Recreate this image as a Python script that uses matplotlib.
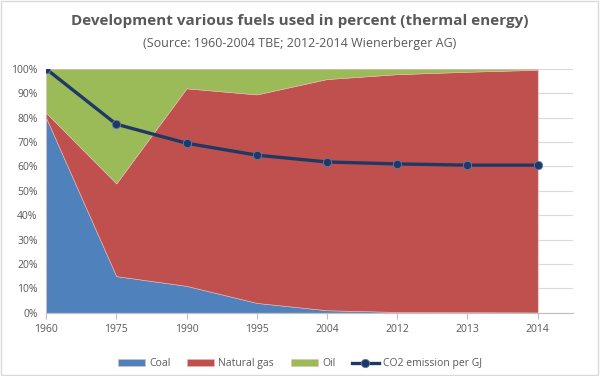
import numpy as np
import matplotlib.pyplot as plt
from matplotlib.ticker import PercentFormatter
from matplotlib.patches import Rectangle

years = ['1960', '1975', '1990', '1995', '2004', '2012', '2013', '2014']
coal = [80, 15, 11, 4, 1, 0.3, 0.2, 0.1]
natural_gas = [2, 38, 81, 85.5, 94.8, 97.5, 98.6, 99.5]
oil = [18, 47, 8, 10.5, 4.2, 2.2, 1.2, 0.4]
co2 = [100, 77.3, 69.5, 64.6, 61.8, 61, 60.5, 60.5]

plt.rcParams['font.family'] = ['Open Sans', 'DejaVu Sans']

fig = plt.figure(figsize=(6, 3.76), dpi=100)
ax = fig.add_axes([0.0767, 0.1684, 0.878, 0.6486])

x = np.arange(len(years))
ax.stackplot(x, coal, natural_gas, oil,
             colors=['#4F81BD', '#C0504D', '#9BBB59'],
             labels=['Coal', 'Natural gas', 'Oil'],
             edgecolor='#E6B9B8', linewidth=0.4, zorder=2)
ax.plot(x, co2, color='#1F3864', lw=2.4, marker='o', ms=6,
        mfc='#1F3864', mec='#5B7DB8', mew=0.6,
        label='CO2 emission per GJ', zorder=3)

ax.set_xlim(0, 7.5)
ax.set_ylim(0, 100)
ax.set_xticks(x)
ax.set_xticklabels(years)
ax.set_yticks(np.arange(0, 101, 10))
ax.yaxis.set_major_formatter(PercentFormatter(decimals=0))
ax.grid(axis='y', color='#D9D9D9', lw=0.8, zorder=0)
ax.set_axisbelow(True)
for s in ['top', 'right', 'left']:
    ax.spines[s].set_visible(False)
ax.spines['bottom'].set_color('#BFBFBF')
ax.tick_params(axis='y', length=0, labelsize=7.5, labelcolor='#595959', pad=6)
ax.tick_params(axis='x', length=4, color='#BFBFBF', labelsize=7.5,
               labelcolor='#595959', pad=4)

fig.text(0.5, 0.945, 'Development various fuels used in percent (thermal energy)',
         ha='center', va='center', fontsize=11, fontweight='bold', color='#595959')
fig.text(0.5, 0.883, '(Source: 1960-2004 TBE; 2012-2014 Wienerberger AG)',
         ha='center', va='center', fontsize=9, color='#595959')

fig.legend(loc='center', bbox_to_anchor=(0.5, 0.032), ncol=4, frameon=False,
           fontsize=7.5, labelcolor='#595959', handlelength=2.6,
           handleheight=0.6, columnspacing=1.6, handletextpad=0.4)

fig.patches.append(Rectangle((0.002, 0.003), 0.995, 0.994, transform=fig.transFigure,
                             fill=False, edgecolor='#D9D9D9', lw=1))

fig.savefig('out.png', dpi=100)
